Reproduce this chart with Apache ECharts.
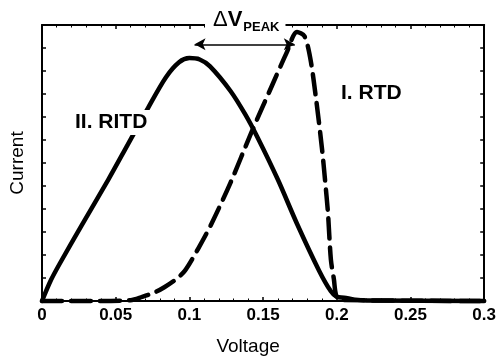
<!DOCTYPE html>
<html>
<head>
<meta charset="utf-8">
<script src="https://cdn.jsdelivr.net/npm/echarts@6/dist/echarts.min.js"></script>
<style>
  html, body { margin: 0; padding: 0; background: #fff; }
  #chart { width: 499px; height: 361px; }
</style>
</head>
<body>
<div id="chart"></div>
<script>
// Voltage (V) and normalised current for the two devices
const ritdVoltage = [0, 0.006, 0.012, 0.027, 0.045, 0.058, 0.072, 0.084, 0.093, 0.1, 0.107, 0.114, 0.128, 0.138, 0.146, 0.16, 0.173, 0.188, 0.196, 0.2, 0.205, 0.212, 0.22, 0.3];
const ritdCurrent = [0, 0.075, 0.135, 0.275, 0.44, 0.565, 0.70, 0.81, 0.865, 0.88, 0.875, 0.85, 0.76, 0.675, 0.595, 0.44, 0.28, 0.11, 0.035, 0.015, 0.012, 0.005, 0.002, 0];

const rtdVoltage = [0, 0.03, 0.06, 0.068, 0.076, 0.083, 0.09, 0.097, 0.106, 0.115, 0.128, 0.142, 0.156, 0.166, 0.173, 0.178, 0.182, 0.186, 0.19, 0.192, 0.194, 0.196, 0.198, 0.2, 0.205, 0.3];
const rtdCurrent = [0, 0, 0.003, 0.015, 0.03, 0.05, 0.075, 0.11, 0.19, 0.28, 0.43, 0.61, 0.78, 0.90, 0.975, 0.96, 0.88, 0.73, 0.55, 0.44, 0.32, 0.15, 0.08, 0.015, 0.004, 0];

// Peak-to-peak separation arrow (voltage range, current level)
const peakArrowV = [0.1035, 0.1715];
const peakArrowI = 0.93;

const xTicks = { min: 0, max: 0.3, interval: 0.05 };

const zip = (xs, ys) => xs.map((x, i) => [x, ys[i]]);

const chart = echarts.init(document.getElementById('chart'), null, { renderer: 'canvas' });

const frameLine = { show: true, onZero: false, lineStyle: { color: '#000', width: 2 } };
const tickIn = { show: true, inside: true, length: 4, lineStyle: { color: '#000', width: 1.5 } };
const minorIn = { show: true, splitNumber: 5, length: 2.5, lineStyle: { color: '#000', width: 1 } };
const labelFont = 'Liberation Sans, Arial';

chart.setOption({
  backgroundColor: '#fff',
  animation: false,
  grid: { left: 42, right: 6, top: 25, bottom: 60 },
  xAxis: [
    {
      type: 'value', position: 'bottom',
      min: xTicks.min, max: xTicks.max, interval: xTicks.interval,
      axisLine: frameLine, axisTick: tickIn, minorTick: minorIn,
      splitLine: { show: false },
      axisLabel: {
        color: '#000', fontFamily: labelFont, fontWeight: 'bold', fontSize: 17, margin: 6,
        formatter: v => String(+v.toFixed(2))
      },
      name: 'Voltage', nameLocation: 'middle', nameGap: 36,
      nameTextStyle: { color: '#000', fontFamily: labelFont, fontSize: 19, padding: [0, 30, 0, 0] }
    },
    {
      type: 'value', position: 'top',
      min: xTicks.min, max: xTicks.max, interval: xTicks.interval,
      axisLine: frameLine, axisTick: tickIn, minorTick: minorIn,
      splitLine: { show: false }, axisLabel: { show: false }
    }
  ],
  yAxis: [
    {
      type: 'value', position: 'left', min: 0, max: 1, interval: 1 / 12,
      axisLine: frameLine, axisTick: tickIn, splitLine: { show: false },
      axisLabel: { show: false },
      name: 'Current', nameLocation: 'middle', nameGap: 15, nameRotate: 90,
      nameTextStyle: { color: '#000', fontFamily: labelFont, fontSize: 19 }
    },
    {
      type: 'value', position: 'right', min: 0, max: 1, interval: 1 / 12,
      axisLine: frameLine, axisTick: tickIn, splitLine: { show: false },
      axisLabel: { show: false }
    }
  ],
  series: [
    {
      name: 'II. RITD', type: 'line', data: zip(ritdVoltage, ritdCurrent),
      smooth: 0.3, showSymbol: false, clip: false,
      lineStyle: { color: '#000', width: 4.5, cap: 'round', join: 'round' },
      markLine: {
        silent: true, symbol: ['arrow', 'arrow'], symbolSize: [9, 11],
        label: { show: false },
        lineStyle: { color: '#000', width: 1.5, type: 'solid' },
        data: [[{ coord: [peakArrowV[0], peakArrowI] }, { coord: [peakArrowV[1], peakArrowI] }]]
      }
    },
    {
      name: 'I. RTD', type: 'line', data: zip(rtdVoltage, rtdCurrent),
      smooth: 0.3, showSymbol: false, clip: false,
      lineStyle: { color: '#000', width: 4.5, type: [20, 9], cap: 'round', join: 'round' }
    }
  ],
  graphic: [
    {
      type: 'text', left: 72, top: 110, z: 10,
      style: {
        text: 'II. RITD', fill: '#000', font: 'bold 21px "Liberation Sans", Arial',
        backgroundColor: '#fff', padding: [2, 3, 2, 3]
      }
    },
    {
      type: 'text', left: 338, top: 81, z: 10,
      style: {
        text: 'I. RTD', fill: '#000', font: 'bold 21px "Liberation Sans", Arial',
        backgroundColor: '#fff', padding: [2, 3, 2, 3]
      }
    },
    {
      type: 'text', left: 205, top: 4, z: 10,
      style: {
        text: '{d|Δ}{v|V}{s|PEAK}',
        backgroundColor: '#fff',
        padding: [2, 6, 2, 8],
        rich: {
          d: { fill: '#000', fontFamily: labelFont, fontSize: 22, verticalAlign: 'bottom', lineHeight: 25 },
          v: { fill: '#000', fontFamily: labelFont, fontWeight: 'bold', fontSize: 22, verticalAlign: 'bottom', lineHeight: 25 },
          s: { fill: '#000', fontFamily: labelFont, fontWeight: 'bold', fontSize: 13, verticalAlign: 'bottom', lineHeight: 15, padding: [0, 0, -3, 1] }
        }
      }
    }
  ]
});
</script>
</body>
</html>
